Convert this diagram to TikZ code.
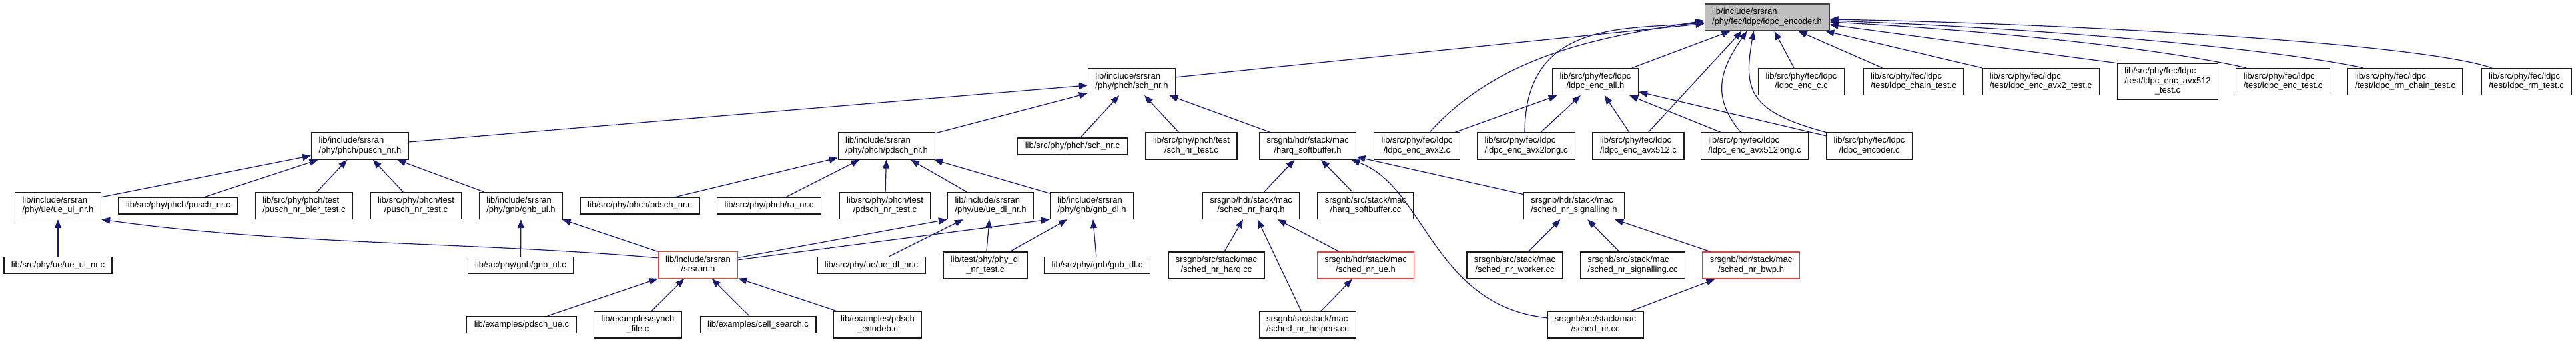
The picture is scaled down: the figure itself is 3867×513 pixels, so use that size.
\documentclass[tikz,border=0pt]{standalone}
\usepackage{fontspec}
\setmainfont{Liberation Sans}
\usepackage{tikz}
\usetikzlibrary{arrows.meta}

\definecolor{edgeblue}{HTML}{191970}
\definecolor{truncred}{HTML}{F04040}
% doxygen-like labels: upper lines flush left, last line centred
\newcommand{\flab}[2]{\begin{tabular}{@{}l@{}}#1\\\multicolumn{1}{@{}c@{}}{#2}\end{tabular}}
\newcommand{\flabiii}[3]{\begin{tabular}{@{}l@{}}#1\\#2\\\multicolumn{1}{@{}c@{}}{#3}\end{tabular}}

\begin{document}
\begin{tikzpicture}[x=1pt,y=1pt,
  file/.style={draw=black!90,line width=1.25pt,fill=white,inner xsep=11pt,inner ysep=5.6pt,
    minimum height=25pt,font=\fontsize{13}{14.4}\selectfont},
  root/.style={file,draw=black!75,fill=gray!50},
  trunc/.style={file,draw=truncred},
  dep/.style={draw=edgeblue,line width=1.2pt,-{Triangle[length=13pt,width=10pt]}}]
  \fill[white] (0,0) rectangle (3867,-513);

  \node[root] (enc_h) at (2652.5,-26) {\flab{lib/include/srsran}{/phy/fec/ldpc/ldpc\_encoder.h}};

  % row 1
  \node[file] (sch_nr_h) at (1699,-122.5) {\flab{lib/include/srsran}{/phy/phch/sch\_nr.h}};
  \node[file] (enc_all_h) at (2395,-122.5) {\flab{lib/src/phy/fec/ldpc}{/ldpc\_enc\_all.h}};
  \node[file] (enc_c) at (2704,-122.5) {\flab{lib/src/phy/fec/ldpc}{/ldpc\_enc\_c.c}};
  \node[file] (chain_test) at (2872.5,-122.5) {\flab{lib/src/phy/fec/ldpc}{/test/ldpc\_chain\_test.c}};
  \node[file] (avx2_test) at (3063.5,-122.5) {\flab{lib/src/phy/fec/ldpc}{/test/ldpc\_enc\_avx2\_test.c}};
  \node[file] (avx512_test) at (3254,-122.5) {\flabiii{lib/src/phy/fec/ldpc}{/test/ldpc\_enc\_avx512}{\_test.c}};
  \node[file] (enc_test) at (3427,-122.5) {\flab{lib/src/phy/fec/ldpc}{/test/ldpc\_enc\_test.c}};
  \node[file] (rm_chain_test) at (3610.5,-122.5) {\flab{lib/src/phy/fec/ldpc}{/test/ldpc\_rm\_chain\_test.c}};
  \node[file] (rm_test) at (3792.5,-122.5) {\flab{lib/src/phy/fec/ldpc}{/test/ldpc\_rm\_test.c}};

  % row 2
  \node[file] (pusch_nr_h) at (540.5,-219) {\flab{lib/include/srsran}{/phy/phch/pusch\_nr.h}};
  \node[file] (pdsch_nr_h) at (1331,-219) {\flab{lib/include/srsran}{/phy/phch/pdsch\_nr.h}};
  \node[file] (sch_nr_c) at (1610,-219.5) {lib/src/phy/phch/sch\_nr.c};
  \node[file] (sch_nr_test) at (1788.5,-219) {\flab{lib/src/phy/phch/test}{/sch\_nr\_test.c}};
  \node[file] (harq_sb_h) at (1963,-219) {\flab{srsgnb/hdr/stack/mac}{/harq\_softbuffer.h}};
  \node[file] (avx2_c) at (2127,-219) {\flab{lib/src/phy/fec/ldpc}{/ldpc\_enc\_avx2.c}};
  \node[file] (avx2long_c) at (2291,-219) {\flab{lib/src/phy/fec/ldpc}{/ldpc\_enc\_avx2long.c}};
  \node[file] (avx512_c) at (2459.5,-219) {\flab{lib/src/phy/fec/ldpc}{/ldpc\_enc\_avx512.c}};
  \node[file] (avx512long_c) at (2634,-219) {\flab{lib/src/phy/fec/ldpc}{/ldpc\_enc\_avx512long.c}};
  \node[file] (encoder_c) at (2806,-219) {\flab{lib/src/phy/fec/ldpc}{/ldpc\_encoder.c}};

  % row 3
  \node[file] (ue_ul_nr_h) at (87,-308.5) {\flab{lib/include/srsran}{/phy/ue/ue\_ul\_nr.h}};
  \node[file] (pusch_nr_c) at (267.5,-308.5) {lib/src/phy/phch/pusch\_nr.c};
  \node[file] (pusch_bler_test) at (456.5,-308.5) {\flab{lib/src/phy/phch/test}{/pusch\_nr\_bler\_test.c}};
  \node[file] (pusch_test) at (624.5,-308.5) {\flab{lib/src/phy/phch/test}{/pusch\_nr\_test.c}};
  \node[file] (gnb_ul_h) at (782,-308.5) {\flab{lib/include/srsran}{/phy/gnb/gnb\_ul.h}};
  \node[file] (pdsch_nr_c) at (960.5,-308.5) {lib/src/phy/phch/pdsch\_nr.c};
  \node[file] (ra_nr_c) at (1154.5,-308.5) {lib/src/phy/phch/ra\_nr.c};
  \node[file] (pdsch_test) at (1328.5,-308.5) {\flab{lib/src/phy/phch/test}{/pdsch\_nr\_test.c}};
  \node[file] (ue_dl_nr_h) at (1487,-308.5) {\flab{lib/include/srsran}{/phy/ue/ue\_dl\_nr.h}};
  \node[file] (gnb_dl_h) at (1639,-308.5) {\flab{lib/include/srsran}{/phy/gnb/gnb\_dl.h}};
  \node[file] (harq_h) at (1878,-308.5) {\flab{srsgnb/hdr/stack/mac}{/sched\_nr\_harq.h}};
  \node[file] (harq_sb_cc) at (2050,-308.5) {\flab{srsgnb/src/stack/mac}{/harq\_softbuffer.cc}};
  \node[file] (signalling_h) at (2363,-308.5) {\flab{srsgnb/hdr/stack/mac}{/sched\_nr\_signalling.h}};

  % row 4
  \node[file] (ue_ul_nr_c) at (87,-398) {lib/src/phy/ue/ue\_ul\_nr.c};
  \node[file] (gnb_ul_c) at (781.5,-398) {lib/src/phy/gnb/gnb\_ul.c};
  \node[trunc] (srsran_h) at (1048,-397.5) {\flab{lib/include/srsran}{/srsran.h}};
  \node[file] (ue_dl_nr_c) at (1308,-398) {lib/src/phy/ue/ue\_dl\_nr.c};
  \node[file] (phy_dl_test) at (1479,-398) {\flab{lib/test/phy/phy\_dl}{\_nr\_test.c}};
  \node[file] (gnb_dl_c) at (1647,-398) {lib/src/phy/gnb/gnb\_dl.c};
  \node[file] (harq_cc) at (1826,-398) {\flab{srsgnb/src/stack/mac}{/sched\_nr\_harq.cc}};
  \node[trunc] (ue_h) at (2050,-398) {\flab{srsgnb/hdr/stack/mac}{/sched\_nr\_ue.h}};
  \node[file] (worker_cc) at (2274,-398) {\flab{srsgnb/src/stack/mac}{/sched\_nr\_worker.cc}};
  \node[file] (signalling_cc) at (2451,-398) {\flab{srsgnb/src/stack/mac}{/sched\_nr\_signalling.cc}};
  \node[trunc] (bwp_h) at (2628.5,-398) {\flab{srsgnb/hdr/stack/mac}{/sched\_nr\_bwp.h}};

  % row 5
  \node[file] (pdsch_ue_c) at (783,-487) {lib/examples/pdsch\_ue.c};
  \node[file] (synch_file_c) at (957.5,-487) {\flab{lib/examples/synch}{\_file.c}};
  \node[file] (cell_search_c) at (1138,-487) {lib/examples/cell\_search.c};
  \node[file] (pdsch_enodeb_c) at (1317.5,-487) {\flab{lib/examples/pdsch}{\_enodeb.c}};
  \node[file] (helpers_cc) at (1963,-487) {\flab{srsgnb/src/stack/mac}{/sched\_nr\_helpers.cc}};
  \node[file] (sched_nr_cc) at (2395,-487) {\flab{srsgnb/src/stack/mac}{/sched\_nr.cc}};

  % straight includes, child -> included file
  \foreach \a/\b in {sch_nr_h/enc_h, enc_all_h/enc_h, enc_c/enc_h, chain_test/enc_h, avx2_test/enc_h,
    pusch_nr_h/sch_nr_h, pdsch_nr_h/sch_nr_h, sch_nr_c/sch_nr_h, sch_nr_test/sch_nr_h, harq_sb_h/sch_nr_h,
    avx2_c/enc_all_h, avx2long_c/enc_all_h, avx512_c/enc_all_h, avx512long_c/enc_all_h, encoder_c/enc_all_h,
    ue_ul_nr_h/pusch_nr_h, pusch_nr_c/pusch_nr_h, pusch_bler_test/pusch_nr_h, pusch_test/pusch_nr_h, gnb_ul_h/pusch_nr_h,
    pdsch_nr_c/pdsch_nr_h, ra_nr_c/pdsch_nr_h, pdsch_test/pdsch_nr_h, ue_dl_nr_h/pdsch_nr_h, gnb_dl_h/pdsch_nr_h,
    ue_ul_nr_c/ue_ul_nr_h, gnb_ul_c/gnb_ul_h, srsran_h/gnb_ul_h,
    ue_dl_nr_c/ue_dl_nr_h, phy_dl_test/ue_dl_nr_h, phy_dl_test/gnb_dl_h, gnb_dl_c/gnb_dl_h,
    pdsch_ue_c/srsran_h, synch_file_c/srsran_h, cell_search_c/srsran_h, pdsch_enodeb_c/srsran_h,
    harq_h/harq_sb_h, harq_sb_cc/harq_sb_h, signalling_h/harq_sb_h,
    harq_cc/harq_h, helpers_cc/harq_h, ue_h/harq_h, helpers_cc/ue_h,
    worker_cc/signalling_h, signalling_cc/signalling_h, bwp_h/signalling_h, sched_nr_cc/bwp_h}
    \draw[dep] (\a) -- (\b);

  \draw[dep] (srsran_h) -- (ue_dl_nr_h.south west);
  \draw[dep] (srsran_h) -- (gnb_dl_h.south west);
  \draw[dep] (srsran_h.170) .. controls +(175:280) and +(-8:280) .. (ue_ul_nr_h.south east);
  \draw[dep] (sched_nr_cc.172) .. controls +(174:172) and +(-20:118) .. ([xshift=-8]harq_sb_h.south east);

  % curved includes of ldpc_encoder.h
  \draw[dep] ([xshift=19]avx2_c.north) .. controls +(48:160) and +(189:150) .. ([yshift=-5]enc_h.west);
  \draw[dep] ([xshift=-2]avx2long_c.north) .. controls +(90:169) and +(185:118) .. ([yshift=-8]enc_h.west);
  \draw[dep] ([xshift=15]avx512_c.north) -- ([xshift=-38]enc_h.south);
  \draw[dep] ([xshift=-21]avx512long_c.north) .. controls +(130:70) and +(-125:70) .. ([xshift=-30]enc_h.south);
  \draw[dep] (encoder_c.north west) .. controls +(165:120) and +(-100:90) .. ([xshift=-20]enc_h.south);
  \draw[dep] (avx512_test.north west) -- ([yshift=-11]enc_h.east);
  \draw[dep] ([xshift=-55]enc_test.north) .. controls +(167:125) and +(-3:253) .. ([yshift=-7]enc_h.east);
  \draw[dep] ([xshift=-63]rm_chain_test.north) .. controls +(168:150) and +(-2:300) .. ([yshift=-5]enc_h.east);
  \draw[dep] ([xshift=-52]rm_test.north) .. controls +(161:116) and +(-1:353) .. ([yshift=-3]enc_h.east);
\end{tikzpicture}
\end{document}
